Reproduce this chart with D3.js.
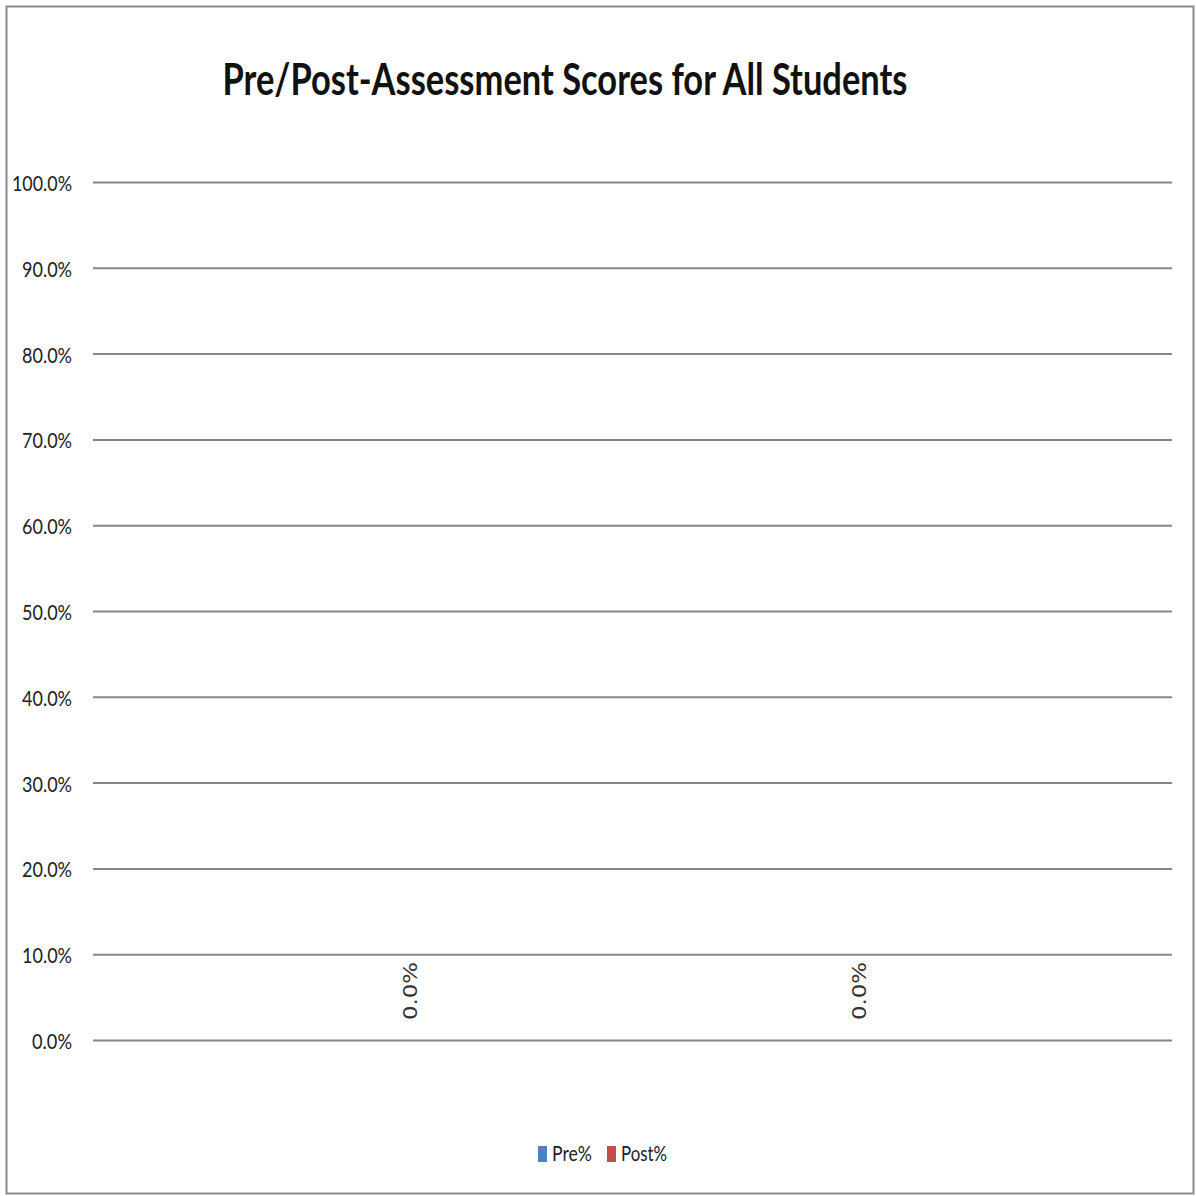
<!DOCTYPE html>
<html>
<head>
<meta charset="utf-8">
<script src="https://cdn.jsdelivr.net/npm/d3@7"></script>
<style>
  body { margin: 0; background: #fff; }
  text { font-family: Lato, "Open Sans", sans-serif; }
</style>
</head>
<body>
<script>

// chart data
var title = "Pre/Post-Assessment Scores for All Students";
var categories = [""];
var series = ["Pre%", "Post%"];
var preValues = [0.0];
var postValues = [0.0];
var yTicks = [0, 0.1, 0.2, 0.3, 0.4, 0.5, 0.6, 0.7, 0.8, 0.9, 1.0];
var colors = ["#4F81BD", "#C0504D"];

var W = 1196, H = 1196;
var margin = {top: 182, right: 24, bottom: 156, left: 93},
    width = W - margin.left - margin.right,
    height = H - margin.top - margin.bottom;

var svg = d3.select("body").append("svg")
    .attr("width", W)
    .attr("height", H);

// outer frame
svg.append("rect")
    .attr("x", 6.5).attr("y", 6.5)
    .attr("width", 1187).attr("height", 1187)
    .attr("fill", "#fff")
    .attr("stroke", "#8a8a8a")
    .attr("stroke-width", 2);

svg.append("text")
    .attr("x", 565)
    .attr("y", 95)
    .attr("text-anchor", "middle")
    .attr("textLength", 685)
    .attr("lengthAdjust", "spacingAndGlyphs")
    .style("font-size", "44px")
    .style("font-weight", "bold")
    .attr("fill", "#111")
    .text(title);

var main = svg.append("g")
    .attr("transform", "translate(" + margin.left + "," + margin.top + ")");

var y = d3.scaleLinear().domain([0, 1]).range([height, 0]);

var x0 = d3.scaleBand().domain(categories).range([0, width]).padding(0);

var x1 = d3.scaleBand().domain(series).range([0, x0.bandwidth()])
    .paddingInner(0).paddingOuter(0.2);

// y axis with gridlines
var yAxis = d3.axisLeft(y)
    .tickValues(yTicks)
    .tickFormat(d3.format(".1%"))
    .tickSizeInner(-width)
    .tickSizeOuter(0)
    .tickPadding(21);

var gy = main.append("g").attr("class", "y axis").call(yAxis);
gy.select(".domain").remove();
gy.selectAll(".tick line")
    .attr("stroke", "#868686")
    .attr("stroke-width", 2);
gy.selectAll(".tick text")
    .attr("fill", "#222")
    .style("font-size", "21px")
    .attr("textLength", function(d) { return d3.format(".1%")(d).length * 10; })
    .attr("lengthAdjust", "spacingAndGlyphs")
    .attr("dy", "0.4em");

// build rows
var rows = categories.map(function(c, i) {
    return {cat: c, values: [
        {key: series[0], value: preValues[i]},
        {key: series[1], value: postValues[i]}
    ]};
});

var groups = main.selectAll(".cat")
    .data(rows)
    .enter().append("g")
    .attr("class", "cat")
    .attr("transform", function(d) { return "translate(" + x0(d.cat) + ",0)"; });

groups.selectAll("rect")
    .data(function(d) { return d.values; })
    .enter().append("rect")
    .attr("x", function(d) { return x1(d.key); })
    .attr("y", function(d) { return y(d.value); })
    .attr("width", x1.bandwidth())
    .attr("height", function(d) { return height - y(d.value); })
    .attr("fill", function(d, i) { return colors[i]; });

// data labels
groups.selectAll(".lbl")
    .data(function(d) { return d.values; })
    .enter().append("text")
    .attr("class", "lbl")
    .attr("transform", function(d) {
        var cx = x1(d.key) + x1.bandwidth() / 2 + 2;
        return "translate(" + cx + "," + (y(d.value) - 20) + ") rotate(-90)";
    })
    .attr("dy", "0.35em")
    .attr("text-anchor", "start")
    .attr("fill", "#333")
    .style("font-family", "'DejaVu Sans', sans-serif")
    .style("font-size", "20px")
    .attr("textLength", 58)
    .attr("lengthAdjust", "spacingAndGlyphs")
    .text(function(d) { return d3.format(".1%")(d.value); });

// legend
var legend = svg.append("g").attr("transform", "translate(538,1154)");
var lx = [0, 69];
var lw = [40, 46];
series.forEach(function(s, i) {
    var g = legend.append("g").attr("transform", "translate(" + lx[i] + ",0)");
    g.append("rect")
        .attr("x", 0).attr("y", -8)
        .attr("width", 9).attr("height", 16)
        .attr("fill", colors[i]);
    g.append("text")
        .attr("x", 14)
        .attr("y", 0)
        .attr("dy", "0.35em")
        .attr("fill", "#222")
        .attr("textLength", lw[i])
        .attr("lengthAdjust", "spacingAndGlyphs")
        .style("font-size", "21px")
        .text(s);
});

</script>
</body>
</html>
